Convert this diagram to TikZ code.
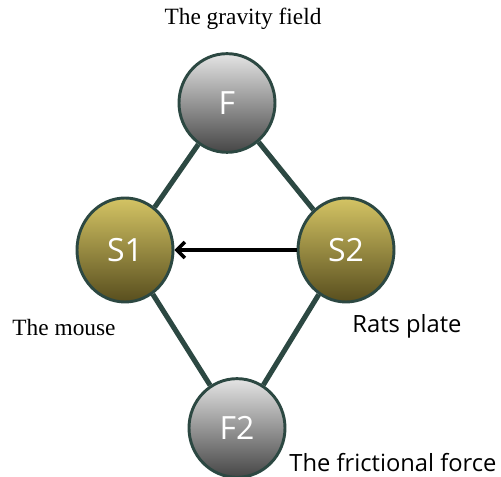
\documentclass[tikz,border=0pt]{standalone}
\usepackage{fontspec}
\setmainfont{Liberation Serif}
\newfontfamily\labelsans{Open Sans}
\definecolor{edgeSlate}{RGB}{44,72,66}
\definecolor{oliveTop}{RGB}{212,196,100}
\definecolor{oliveBottom}{RGB}{88,78,30}
\definecolor{greyTop}{RGB}{228,228,228}
\definecolor{greyBottom}{RGB}{70,70,70}
\usetikzlibrary{arrows.meta,positioning,shapes.geometric}

\begin{document}
\begin{tikzpicture}[x=0.75pt,y=-0.75pt,
    forceNode/.style={ellipse, draw=edgeSlate, line width=2.2pt,
          top color=greyTop, bottom color=greyBottom,
          minimum width=72pt, minimum height=74pt, inner sep=0pt,
          text=white, font=\labelsans\fontsize{24}{26}\selectfont},
    bodyNode/.style={forceNode, top color=oliveTop, bottom color=oliveBottom,
          minimum height=78pt},
    link/.style={draw=edgeSlate, line width=3.8pt},
    serifLabel/.style={font=\fontsize{17.5}{20}\selectfont, inner sep=0pt},
    sansLabel/.style={font=\labelsans\fontsize{17.8}{20}\selectfont, inner sep=0pt}]
  \useasboundingbox (0,0) rectangle (501,477);

  \node[forceNode] (F) at (227,103) {F};
  \node[bodyNode] (S1) at (125,250) {S1};
  \node[bodyNode] (S2) at (346,250) {S2};
  \node[forceNode] (F2) at (237,428) {F2};

  \draw[link] (F) -- (S1);
  \draw[link] (F) -- (S2);
  \draw[link] (S1) -- (F2);
  \draw[link] (S2) -- (F2);
  \draw[line width=2.6pt, -{Straight Barb[length=6pt,width=12pt]}] (S2) -- (S1);

  \node[serifLabel] (gravity) at (243,19) {The gravity field};
  \node[serifLabel] (mouse) at (64,328) {The mouse};
  \node[sansLabel] (plate) at (407,326) {Rats plate};
  \node[sansLabel] (friction) at (393,463) {The frictional force};
\end{tikzpicture}
\end{document}
